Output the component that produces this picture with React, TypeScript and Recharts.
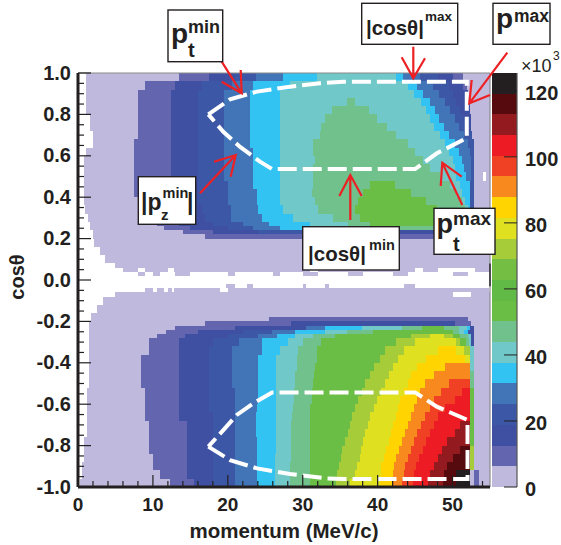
import { ComposedChart, ReferenceArea, ReferenceLine, Scatter, XAxis, YAxis } from "recharts";

// colour of each of the 20 contour levels, bottom of the palette first
const levelColors = [
  "#bfbadd", "#6366ae", "#3f50a2", "#3c57a6", "#4275b8", "#32c3f3", "#70c9c8", "#70c18c", "#6abd45", "#62ba46",
  "#74bf43", "#a6cd39", "#dfe01f", "#ffd400", "#f7891f", "#f04124", "#ed1c24", "#931b1f", "#560a0e", "#231f20",
];
const paletteEdges = [0, 6.3, 12.5, 18.8, 25.1, 31.4, 37.6, 43.9, 50.2, 56.4, 62.7, 69, 75.2, 81.5, 87.8, 94.1, 100.3, 106.6, 112.9, 119.1, 125.4];

// cos(theta) at the top of each band of bins, last entry closes the table
const rowTops = [
  1, 0.96, 0.92, 0.88, 0.84, 0.8, 0.76, 0.72, 0.68, 0.64, 0.6, 0.56, 0.52, 0.48, 0.44, 0.4, 0.36, 0.32, 0.28, 0.26, 0.24, 0.22,
  0.2, 0.16, 0.12, 0.08, 0.06, 0.04, 0.02, -0.02, -0.04, -0.06, -0.08, -0.12, -0.16, -0.18, -0.2, -0.22, -0.24, -0.26,
  -0.28, -0.32, -0.36, -0.4, -0.44, -0.48, -0.52, -0.56, -0.6, -0.64, -0.68, -0.72, -0.76, -0.8, -0.84, -0.88, -0.92, -0.96, -1,
];
// per band: momentum where a run starts, level of that run (-1 = empty)
const rowRuns = [
  [1.1,0, 13.5,1, 17.5,2, 21,3, 23.8,4, 27.4,5, 31.9,6, 42.5,5, 43.4,4, 45.7,3, 48,2, 50,1, 51.4,0, 55,-1],
  [1.1,0, 9,1, 13,2, 16.5,3, 20.5,4, 23.4,5, 28.3,6, 44,5, 45.2,4, 47.4,3, 49.5,2, 51.4,1, 51.9,0, 55,-1],
  [1.1,0, 8,1, 12.4,2, 16,3, 19.5,4, 23,5, 27,6, 44.8,5, 46,4, 48.2,3, 50,2, 52,0, 55,-1],
  [1.1,0, 8,1, 12.4,2, 16,3, 19.5,4, 23,5, 27,6, 35.9,7, 37,6, 45.8,5, 47,4, 49,3, 50.5,2, 52.3,0, 55,-1],
  [1.1,0, 8,1, 12.4,2, 16,3, 19.5,4, 23,5, 27,6, 33.9,7, 38.8,6, 46.5,5, 47.6,4, 49.6,3, 51,2, 52.3,0, 55,-1],
  [1.6,0, 8,1, 12.4,2, 16,3, 19.5,4, 23,5, 27,6, 33,7, 39.9,6, 47,5, 48.2,4, 50.3,3, 51.4,2, 52.4,0, 55,-1],
  [1.6,0, 8,1, 12.4,2, 16,3, 19.5,4, 23,5, 27,6, 32.5,7, 41.2,6, 47.5,5, 48.8,4, 50.8,3, 51.7,2, 52.5,0, 55,-1],
  [2,0, 8,1, 12.4,2, 16,3, 19.5,4, 23,5, 27,6, 32.3,7, 42.5,6, 48.3,5, 49.5,4, 51.5,3, 52.6,0, 55,-1],
  [2,0, 7.5,1, 12.4,2, 16,3, 19.5,4, 23,5, 27,6, 31.4,7, 44.1,6, 49,5, 50.3,4, 52,3, 52.8,0, 55,-1],
  [1.1,0, 7.5,1, 12.4,2, 16,3, 19.5,4, 23.4,5, 27,6, 31.4,7, 45,6, 49.5,5, 50.8,4, 52.3,3, 52.8,0, 55,-1],
  [0.8,0, 7.5,1, 12.4,2, 16,3, 19.5,4, 23.4,5, 27,6, 31.6,7, 46.1,6, 50,5, 51.2,4, 52.4,3, 52.8,0, 55,-1],
  [0.8,0, 7.5,1, 12.4,2, 16,3, 19.5,4, 23.4,5, 27,6, 31.4,7, 47,6, 50.3,5, 51.5,4, 52.5,3, 52.8,0, 55,-1],
  [0.8,0, 7.5,1, 12.4,2, 16,3, 19.5,4, 23.4,5, 27,6, 31.4,7, 48.3,6, 50.5,5, 51.8,4, 52.5,3, 52.8,0, 54,-1, 54.5,0, 55,-1],
  [0.8,0, 7.5,1, 12.4,2, 16,3, 20,4, 23.4,5, 27,6, 31.4,7, 39,8, 42.3,7, 49.7,6, 51,5, 52.3,3, 52.8,0, 55,-1],
  [0.8,0, 7.5,1, 12.4,2, 16,3, 20,4, 23.9,5, 27,6, 31.2,7, 38,8, 44.5,7, 50.5,6, 51.3,5, 52.3,3, 52.8,0, 55,-1],
  [0.8,0, 8,1, 12.4,2, 16,3, 20,4, 23.9,5, 27,6, 31.6,7, 37.4,8, 46.5,7, 51.2,6, 51.7,5, 52.3,3, 52.8,0, 55,-1],
  [1,0, 8,1, 12.4,2, 16.5,3, 20.4,4, 24,5, 27.4,6, 32,7, 37,8, 47.9,7, 51.7,6, 52,5, 52.3,3, 52.8,0, 55,-1],
  [1.3,0, 8,1, 12.8,2, 17,3, 20.4,4, 24.5,5, 28.7,6, 34,7, 37.6,8, 48.8,7, 51.5,6, 52,5, 52.4,3, 52.9,0, 55,-1],
  [1.6,0, 10.6,1, 13.5,2, 18,3, 22,4, 25.5,5, 31,6, 36,7, 39,8, 48,7, 51,6, 52,5, 52.4,3, 52.9,0, 55,-1],
  [1.6,0, 11.5,1, 15,2, 20,3, 23.4,4, 27,5, 33.6,6, 39,7, 48,6, 51,5, 52.3,3, 52.9,0, 55,-1],
  [2,0, 14,1, 18,2, 24,3, 30,2, 52.9,0, 55,-1],
  [2,0, 17,1, 52.4,0, 55,-1],
  [2.1,0, 55,-1],
  [3,0, 55,-1],
  [3.6,0, 55,-1],
  [5,0, 41,-1, 41.8,0, 55,-1],
  [6,0, 8,-1, 9,0, 12,-1, 12.8,0, 31,-1, 32,0, 45,-1, 46,0, 48,-1, 53,0, 55,-1],
  [8,0, 9,-1, 10,0, 11,-1, 13,0, 15,-1, 20,0, 21,-1, 26,0, 27,-1, 30,0, 32,-1, 36,0, 38,-1, 42,0, 44,-1, 50,0, 52,-1],
  [],
  [19.8,0, 21,-1, 22.5,0, 23.4,-1, 30,0, 30.5,-1, 33,0, 33.5,-1, 43.5,0, 45,-1],
  [9,0, 10,-1, 10.5,0, 11.5,-1, 12,0, 12.5,-1, 12.8,0, 19,-1, 20,0, 54.8,-1],
  [5,0, 50,-1, 52.5,0, 55,-1],
  [3.4,0, 55,-1],
  [2.5,0, 55,-1],
  [1.8,0, 55,-1],
  [1.8,0, 25.5,1, 52,0, 55,-1],
  [1.5,0, 17,1, 28.4,2, 50.3,1, 52.5,0, 55,-1],
  [1.5,0, 13,1, 21,2, 30.4,4, 33,5, 37.9,6, 43.2,7, 45.9,8, 48.8,7, 50.8,6, 51.9,5, 52.3,2, 52.8,0, 55,-1],
  [1.5,0, 11.8,1, 16,2, 22,3, 25.9,4, 29,5, 33,6, 35.9,7, 39.4,8, 50,7, 50.8,6, 51.5,5, 52,2, 52.8,0, 55,-1],
  [1.5,0, 10.6,1, 14.3,2, 20,3, 24,4, 26.5,5, 29,6, 31.4,7, 34.3,8, 44.5,11, 47,12, 48.8,11, 50,8, 51,7, 52,6, 52.4,2, 52.8,0, 55,-1],
  [1.5,0, 9.5,1, 13.5,2, 18,3, 21.5,4, 24.5,5, 28,6, 30,7, 32.5,8, 42.5,11, 45,12, 50.5,11, 51,8, 51.8,7, 52.2,6, 52.5,2, 52.8,0, 55,-1],
  [1.5,0, 9.5,1, 13.5,2, 17.5,3, 20.5,4, 24.5,5, 27,6, 29.4,7, 31.9,8, 41,11, 43.5,12, 48,13, 50.5,12, 51.5,11, 52.3,6, 52.8,0, 55,-1],
  [1.5,0, 8.4,1, 13.5,2, 17.5,3, 20.5,4, 24,5, 26.4,6, 29.2,7, 31.9,8, 40.3,11, 42.7,12, 46.5,13, 51.7,12, 52.3,6, 52.8,0, 55,-1],
  [1.5,0, 8.4,1, 13.5,2, 17.5,3, 20.5,4, 24,5, 26.4,6, 29.2,7, 31.7,8, 39.5,11, 42,12, 45.3,13, 49,14, 52.3,6, 52.8,0, 55,-1],
  [1.5,0, 8.4,1, 13.5,2, 17.5,3, 20.5,4, 24,5, 26.4,6, 29,7, 31.5,8, 39,11, 41.5,12, 44.5,13, 47.5,14, 52.3,7, 52.8,0, 55,-1],
  [1.5,0, 8.4,1, 13.5,2, 17.5,3, 20.5,4, 24,5, 26.4,6, 29,7, 31.4,8, 38.3,11, 41,12, 44,13, 46.3,14, 49.5,15, 52.3,7, 52.8,0, 55,-1],
  [1.2,0, 8.9,1, 13.5,2, 17.5,3, 21,4, 24,5, 26.4,6, 28.9,7, 31.3,8, 37.9,11, 40.4,12, 43.5,13, 45.7,14, 48.5,15, 51.2,16, 52.3,8, 52.8,0, 55,-1],
  [1.2,0, 8.9,1, 13.5,2, 17.5,3, 21,4, 24,5, 26.4,6, 28.8,7, 31.2,8, 37.4,11, 39.9,12, 43,13, 45.2,14, 47.5,15, 50.3,16, 52.3,8, 52.8,0, 55,-1],
  [1.2,0, 8.9,1, 13.5,2, 17.5,3, 21,4, 23.9,5, 26.4,6, 28.7,7, 31,8, 37,11, 39.5,12, 42.7,13, 44.8,14, 47,15, 49,16, 52.3,8, 52.8,0, 55,-1],
  [1.2,0, 8.9,1, 13.5,2, 18,3, 21,4, 23.7,5, 26.4,6, 28.6,7, 31,8, 36.6,11, 39,12, 42.4,13, 44.4,14, 46.3,15, 48,16, 52.3,8, 52.8,0, 55,-1],
  [1.2,0, 9.5,1, 14.5,2, 18,3, 21,4, 23.7,5, 26.4,6, 28.5,7, 31,8, 36.3,11, 38.7,12, 42.1,13, 44,14, 45.8,15, 47.5,16, 51,17, 52.3,8, 52.8,0, 55,-1],
  [1.2,0, 9.5,1, 14.5,2, 18,3, 21,4, 23.7,5, 26.4,6, 28.5,7, 31,8, 36,11, 38.3,12, 41.8,13, 43.6,14, 45.3,15, 47,16, 50.3,17, 52.3,8, 52.8,0, 55,-1],
  [0.8,0, 9.5,1, 14.5,2, 18,3, 21,4, 23.9,5, 26.4,6, 28.5,7, 31,8, 35.6,11, 38,12, 41.5,13, 43.2,14, 44.9,15, 46.5,16, 49.3,17, 52.3,8, 52.8,0, 55,-1],
  [0.8,0, 9.5,1, 14.5,2, 18,3, 21,4, 23.9,5, 26.4,6, 28.4,7, 31,8, 35.3,11, 37.8,12, 41.1,13, 42.8,14, 44.4,15, 46,16, 48.6,17, 51,18, 52.3,11, 52.8,0, 55,-1],
  [0.8,0, 10,1, 14.5,2, 18,3, 21,4, 23.9,5, 26.3,6, 28.4,7, 31,8, 35.1,11, 37.6,12, 40.8,13, 42.5,14, 44,15, 45.5,16, 48.1,17, 50,18, 52.3,11, 52.8,0, 55,-1],
  [0.5,0, 10,1, 14.5,2, 18,3, 21,4, 23.9,5, 26.3,6, 28.3,7, 31,8, 34.9,11, 37.3,12, 40.5,13, 42.2,14, 43.6,15, 45.1,16, 47.5,17, 49.3,18, 52.3,11, 52.8,0, 55,-1],
  [0.5,0, 11,1, 14.5,2, 18,3, 21,4, 23.9,5, 26.3,6, 28.3,7, 31,8, 34.6,11, 37,12, 40.4,13, 42,14, 43.5,15, 44.9,16, 47,17, 48.9,18, 50.5,19, 52.3,0, 52.9,1, 53.5,0, 55,-1],
  [0.3,0, 12.3,1, 15.5,2, 18,3, 21,4, 23.9,5, 26.3,6, 28.3,7, 31,8, 34.4,11, 36.3,12, 40.3,13, 41.9,14, 43.3,15, 44.7,16, 46.7,17, 48.7,18, 50.5,19, 52.3,0, 52.9,1, 53.5,0, 55,-1],
];

// dashed acceptance contours, momentum / cos(theta)
const upperCutP = [17.4, 20.3, 23.9, 28.3, 32.3, 35.4, 51.9, 51.9, 49.2, 47.9, 45, 25.9, 24.3, 21.6, 19.4, 17.4];
const upperCutC = [0.8, 0.873, 0.91, 0.934, 0.95, 0.958, 0.958, 0.686, 0.636, 0.612, 0.536, 0.536, 0.572, 0.644, 0.716, 0.8];
const lowerCutP = [17.4, 20.3, 23.9, 28.3, 33, 35.6, 52, 52, 47.9, 45, 25.9, 23.4, 21.2, 19.4, 17.4];
const lowerCutC = [-0.805, -0.87, -0.91, -0.937, -0.958, -0.961, -0.961, -0.676, -0.612, -0.543, -0.543, -0.596, -0.652, -0.725, -0.805];

const xTicks = [0, 2, 4, 6, 8, 10, 12, 14, 16, 18, 20, 22, 24, 26, 28, 30, 32, 34, 36, 38, 40, 42, 44, 46, 48, 50, 52, 54];
const xLabelled = [0, 10, 20, 30, 40, 50];
const yTicks = [1, 0.95, 0.9, 0.85, 0.8, 0.75, 0.7, 0.65, 0.6, 0.55, 0.5, 0.45, 0.4, 0.35, 0.3, 0.25, 0.2, 0.15, 0.1, 0.05, 0,
  -0.05, -0.1, -0.15, -0.2, -0.25, -0.3, -0.35, -0.4, -0.45, -0.5, -0.55, -0.6, -0.65, -0.7, -0.75, -0.8, -0.85, -0.9, -0.95, -1];
const yLabelled = [1, 0.8, 0.6, 0.4, 0.2, 0, -0.2, -0.4, -0.6, -0.8, -1];
const paletteTicks = [0, 20, 40, 60, 80, 100, 120];

const INK = "#231f20";
const RED = "#ed2024";
const FONT = "'Liberation Sans', Arial, sans-serif";
const PLOT_MARGIN = { left: 77, right: 71, top: 73, bottom: 57 };
const PALETTE_MARGIN = { left: 492, right: 43, top: 73, bottom: 58 };
const LAYER = { position: "absolute", left: 0, top: 0 } as const;

const upperCut = upperCutP.map((p, i) => ({ p, c: upperCutC[i] }));
const lowerCut = lowerCutP.map((p, i) => ({ p, c: lowerCutC[i] }));
const paletteAnchors = paletteTicks.map((z) => ({ a: 0.5, z }));
const plotAnchors = xLabelled.map((p) => ({ p, c: 0 }));

const cells: { key: string; x1: number; x2: number; y1: number; y2: number; fill: string }[] = [];
rowRuns.forEach((runs, r) => {
  for (let i = 0; i + 2 < runs.length; i += 2) {
    if (runs[i + 1] < 0) continue;
    cells.push({
      key: `${r}-${i}`,
      x1: runs[i],
      x2: runs[i + 2],
      y1: rowTops[r],
      y2: rowTops[r + 1],
      fill: levelColors[runs[i + 1]],
    });
  }
});

const CrispRect = (props: any) => (
  <rect x={props.x} y={props.y} width={props.width} height={props.height} fill={props.fill} shapeRendering="crispEdges" />
);

const sameTick = (a: number, b: number) => Math.abs(a - b) < 1e-6;

function XTick({ x, y, payload }: any) {
  const major = xLabelled.some((v) => sameTick(v, payload.value));
  return (
    <g>
      <line x1={x} x2={x} y1={y} y2={y - (major ? 12 : 6)} stroke={INK} strokeWidth={1.2} />
      {major && (
        <text x={x} y={y + 23.5} textAnchor="middle" fontFamily={FONT} fontWeight="bold" fontSize={19} fill={INK}>
          {payload.value}
        </text>
      )}
    </g>
  );
}

function YTick({ x, y, payload }: any) {
  const major = yLabelled.some((v) => sameTick(v, payload.value));
  return (
    <g>
      <line x1={x} x2={x + (major ? 13 : 6)} y1={y} y2={y} stroke={INK} strokeWidth={1.2} />
      {major && (
        <text x={x - 7} y={y + 6.5} textAnchor="end" fontFamily={FONT} fontWeight="bold" fontSize={20} fill={INK}>
          {payload.value.toFixed(1)}
        </text>
      )}
    </g>
  );
}

function PaletteTick({ x, y, payload }: any) {
  return (
    <g>
      <line x1={x} x2={x - 13} y1={y} y2={y} stroke={INK} strokeWidth={1} />
      <text x={x + 8} y={y + 9} fontFamily={FONT} fontWeight="bold" fontSize={20} fill={INK}>
        {payload.value}
      </text>
    </g>
  );
}

function Note({ box, children }: { box: number[]; children: any }) {
  return (
    <g fontFamily={FONT} fontWeight="bold" fill={INK}>
      <rect x={box[0]} y={box[1]} width={box[2] - box[0]} height={box[3] - box[1]} fill="#fff" stroke={INK} strokeWidth={1.4} />
      {children}
    </g>
  );
}

function Arrow({ pts }: { pts: number[] }) {
  const [x0, y0, tx, ty, ax, ay, bx, by] = pts;
  return <path d={`M${x0} ${y0}L${tx} ${ty}M${ax} ${ay}L${tx} ${ty}L${bx} ${by}`} fill="none" stroke={RED} strokeWidth={2.2} />;
}

export default function App() {
  return (
    <div style={{ position: "fixed", left: 0, top: 0, width: 561, height: 545, background: "#fff", overflow: "hidden" }}>
      {/* heat map */}
      <div style={LAYER}>
        <ComposedChart width={561} height={545} margin={PLOT_MARGIN}>
          <XAxis type="number" dataKey="p" domain={[0, 55]} height={1} axisLine={false} tickLine={false} tick={false} allowDataOverflow />
          <YAxis type="number" dataKey="c" domain={[-1, 1]} width={1} axisLine={false} tickLine={false} tick={false} allowDataOverflow />
          {cells.map((c) => (
            <ReferenceArea key={c.key} x1={c.x1} x2={c.x2} y1={c.y1} y2={c.y2} fill={c.fill} fillOpacity={1} stroke="none" shape={CrispRect} />
          ))}
          <Scatter
            data={upperCut}
            isAnimationActive={false}
            shape={() => null}
            line={{ stroke: "#fff", strokeWidth: 4, strokeDasharray: "19 6" }}
            lineType="joint"
          />
          <Scatter
            data={lowerCut}
            isAnimationActive={false}
            shape={() => null}
            line={{ stroke: "#fff", strokeWidth: 4, strokeDasharray: "19 6" }}
            lineType="joint"
          />
        </ComposedChart>
      </div>

      {/* palette */}
      <div style={LAYER}>
        <ComposedChart width={561} height={545} margin={PALETTE_MARGIN}>
          <XAxis type="number" dataKey="a" domain={[0, 1]} hide />
          <YAxis type="number" dataKey="z" orientation="right" domain={[0, 125.4]} width={1} axisLine={false} tickLine={false} tick={false} />
          {levelColors.map((fill, i) => (
            <ReferenceArea key={i} x1={0} x2={1} y1={paletteEdges[i]} y2={paletteEdges[i + 1]} fill={fill} fillOpacity={1} stroke="none" shape={CrispRect} />
          ))}
          <Scatter data={paletteAnchors} isAnimationActive={false} shape={() => null} />
        </ComposedChart>
      </div>

      {/* axes and ticks go in their own layers so they sit on top of the cells */}
      <div style={LAYER}>
        <ComposedChart width={561} height={545} margin={PLOT_MARGIN}>
          <XAxis
            type="number"
            dataKey="p"
            domain={[0, 55]}
            ticks={xTicks}
            interval={0}
            height={1}
            axisLine={false}
            tickLine={false}
            tickSize={0}
            tickMargin={0}
            tick={<XTick />}
            allowDataOverflow
          />
          <YAxis
            type="number"
            dataKey="c"
            domain={[-1, 1]}
            ticks={yTicks}
            interval={0}
            width={1}
            axisLine={false}
            tickLine={false}
            tickSize={0}
            tickMargin={0}
            tick={<YTick />}
            allowDataOverflow
          />
          <ReferenceLine y={1} stroke="#8a8a8a" strokeWidth={1.2} />
          <ReferenceLine x={55} stroke="#8a8a8a" strokeWidth={1.2} />
          <ReferenceLine segment={[{ x: 55, y: 0.08 }, { x: 55, y: -0.03 }]} stroke={INK} strokeWidth={1.4} />
          <ReferenceLine x={0} stroke={INK} strokeWidth={3} />
          <ReferenceLine y={-1} stroke={INK} strokeWidth={3} />
          <Scatter data={plotAnchors} isAnimationActive={false} shape={() => null} />
        </ComposedChart>
      </div>
      <div style={LAYER}>
        <ComposedChart width={561} height={545} margin={PALETTE_MARGIN}>
          <XAxis type="number" dataKey="a" domain={[0, 1]} hide />
          <YAxis
            type="number"
            dataKey="z"
            orientation="right"
            domain={[0, 125.4]}
            ticks={paletteTicks}
            interval={0}
            width={1}
            axisLine={false}
            tickLine={false}
            tickSize={0}
            tickMargin={0}
            tick={<PaletteTick />}
          />
          <ReferenceLine x={1} stroke="#555" strokeWidth={1.2} />
          <Scatter data={paletteAnchors} isAnimationActive={false} shape={() => null} />
        </ComposedChart>
      </div>

      <svg width={561} height={545} style={LAYER}>
        <text x={284} y={538} textAnchor="middle" fontFamily={FONT} fontWeight="bold" fontSize={20.5} fill={INK}>
          momentum (MeV/c)
        </text>
        <text transform="translate(24,277) rotate(-90)" textAnchor="middle" fontFamily={FONT} fontWeight="bold" fontSize={20} fill={INK}>
          cosθ
        </text>
        <text x={521} y={72} fontFamily={FONT} fontSize={18} fill={INK}>×10</text>
        <text x={553} y={60} fontFamily={FONT} fontSize={12} fill={INK}>3</text>

        <Arrow pts={[221.7, 61.7, 241.7, 93.3, 221.7, 81.7, 240.7, 70]} />
        <Arrow pts={[200, 193.3, 235.7, 155, 214, 161.7, 230.7, 176.7]} />
        <Arrow pts={[350.3, 220, 350.3, 175, 339.3, 196, 361.7, 196]} />
        <Arrow pts={[462.3, 205, 442.3, 162.7, 461.7, 176.7, 440.7, 186]} />
        <Arrow pts={[413.3, 46.7, 413.3, 78.3, 401.7, 57.3, 425, 58.3]} />
        <Arrow pts={[507.3, 52.7, 469.3, 103.3, 471.7, 80, 490, 95]} />

        <Note box={[168, 10, 222.7, 61.7]}>
          <text x={171} y={43} fontSize={28}>p</text>
          <text x={188} y={33} fontSize={18}>min</text>
          <text x={188} y={57} fontSize={20}>t</text>
        </Note>
        <Note box={[361.7, 3.3, 457.7, 44.3]}>
          <text x={366} y={35} fontSize={20.5}>|cosθ|</text>
          <text x={425} y={21} fontSize={13.5}>max</text>
        </Note>
        <Note box={[493, 3.3, 550, 44.3]}>
          <text x={496} y={28} fontSize={28}>p</text>
          <text x={514} y={22} fontSize={17.5}>max</text>
        </Note>
        <Note box={[138.3, 176.7, 195.7, 224.3]}>
          <text x={141} y={210} fontSize={23}>|p</text>
          <text x={162.5} y={198} fontSize={14.5}>min</text>
          <text x={161} y={220} fontSize={15}>z</text>
          <text x={187} y={210} fontSize={23}>|</text>
        </Note>
        <Note box={[302.7, 226.7, 399.3, 270]}>
          <text x={308} y={260.7} fontSize={20.5}>|cosθ|</text>
          <text x={369} y={250} fontSize={14.5}>min</text>
        </Note>
        <Note box={[434, 208.3, 495, 254.3]}>
          <text x={436.5} y={233} fontSize={27}>p</text>
          <text x={453} y={225} fontSize={19}>max</text>
          <text x={453} y={251} fontSize={20}>t</text>
        </Note>
      </svg>
    </div>
  );
}
